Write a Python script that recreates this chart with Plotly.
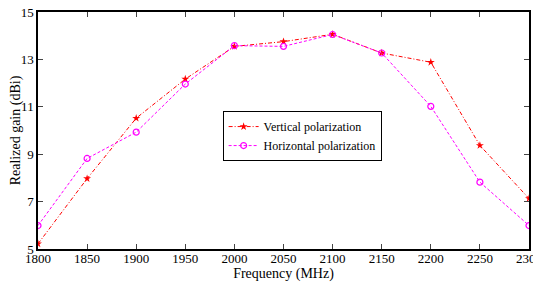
import plotly.graph_objects as go

freq = [1800, 1850, 1900, 1950, 2000, 2050, 2100, 2150, 2200, 2250, 2300]
vertical = [5.22, 7.97, 10.52, 12.17, 13.55, 13.75, 14.06, 13.27, 12.88, 9.37, 7.13]
horizontal = [5.99, 8.82, 9.93, 11.96, 13.58, 13.55, 14.05, 13.27, 11.02, 7.82, 5.99]
x_ticks = [1800, 1850, 1900, 1950, 2000, 2050, 2100, 2150, 2200, 2250, 2300]
y_ticks = [5, 7, 9, 11, 13, 15]

fig = go.Figure()
fig.add_trace(go.Scatter(
    x=freq, y=vertical, mode="lines+markers", name="Vertical polarization",
    line=dict(color="#ff0000", width=1, dash="4px,2px,1px,2px"),
    marker=dict(symbol="star", size=6, color="#ff0000"),
))
fig.add_trace(go.Scatter(
    x=freq, y=horizontal, mode="lines+markers", name="Horizontal polarization",
    line=dict(color="#ff00ff", width=1, dash="3px,2px"),
    marker=dict(symbol="circle-open", size=6, color="#ff00ff", line=dict(width=1.2)),
))

font = "Liberation Serif"
fig.update_layout(
    width=541, height=285,
    margin=dict(l=30, r=20, t=4, b=44),
    paper_bgcolor="white", plot_bgcolor="white",
    font=dict(family=font, size=13, color="black"),
    showlegend=True,
    legend=dict(
        x=0.376, y=0.582, xanchor="left", yanchor="top",
        bgcolor="white", bordercolor="black", borderwidth=1,
        font=dict(family=font, size=12, color="black"),
        tracegroupgap=0, itemwidth=30,
    ),
)
fig.update_xaxes(
    range=[1800, 2300], tickvals=x_ticks, ticks="inside", ticklen=5,
    showline=True, linecolor="black", linewidth=1.5, mirror="ticks",
    showgrid=False, zeroline=False, automargin=False, ticklabeloverflow="allow",
    ticklabelstandoff=-3,
    title=dict(text="Frequency (MHz)", font=dict(family=font, size=14), standoff=0),
    tickfont=dict(family=font, size=13),
)
fig.update_yaxes(
    range=[5, 15], tickvals=y_ticks, ticks="inside", ticklen=5,
    showline=True, linecolor="black", linewidth=1.5, mirror="ticks",
    showgrid=False, zeroline=False, automargin=False, ticklabeloverflow="allow",
    title=dict(text="Realized gain (dBi)", font=dict(family=font, size=14), standoff=4),
    tickfont=dict(family=font, size=13),
)

fig.write_html("out.html")
